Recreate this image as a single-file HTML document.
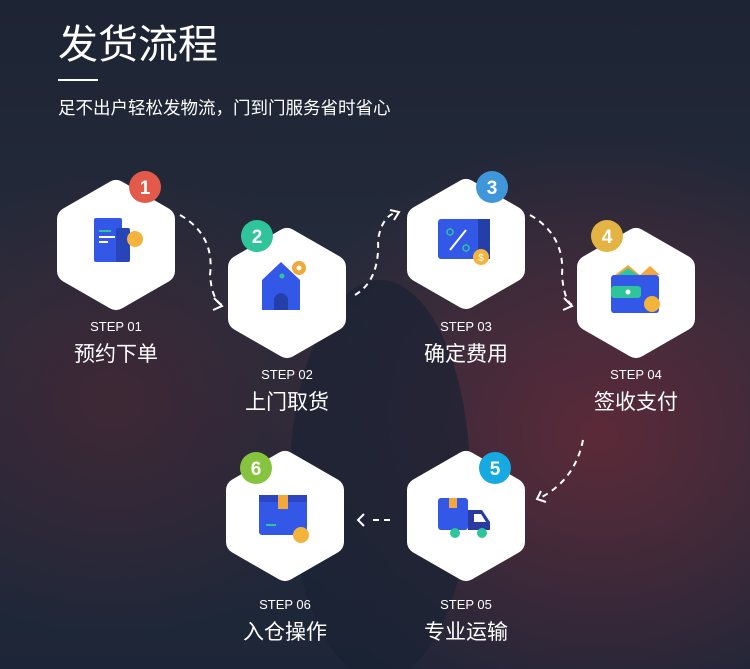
<!DOCTYPE html>
<html><head><meta charset="utf-8"><style>
body{margin:0;width:750px;height:669px;overflow:hidden;background:#1e2535;}
svg{display:block}
text{font-family:"Liberation Sans","Noto Sans CJK SC",sans-serif;fill:#fff}
</style></head><body>
<svg width="750" height="669" viewBox="0 0 750 669">
<defs>
<linearGradient id="bg" x1="0" y1="0" x2="0" y2="1">
<stop offset="0" stop-color="#1d2434"/><stop offset="0.5" stop-color="#262c3c"/><stop offset="1" stop-color="#1d2638"/>
</linearGradient>
<radialGradient id="red" cx="0.8" cy="0.65" r="0.45">
<stop offset="0" stop-color="#6a2a38" stop-opacity="0.8"/><stop offset="1" stop-color="#6a2a38" stop-opacity="0"/>
</radialGradient>
<radialGradient id="red2" cx="0.15" cy="0.6" r="0.35">
<stop offset="0" stop-color="#4a2633" stop-opacity="0.7"/><stop offset="1" stop-color="#4a2633" stop-opacity="0"/>
</radialGradient>
<g id="hex"><polygon points="0,-53 47,-26 47,26 0,53 -47,26 -47,-26" fill="#fff" stroke="#fff" stroke-width="24" stroke-linejoin="round"/></g>
</defs>
<rect width="750" height="669" fill="url(#bg)"/>
<rect width="750" height="669" fill="url(#red)"/>
<rect width="750" height="669" fill="url(#red2)"/>
<ellipse cx="380" cy="480" rx="90" ry="200" fill="#1a2233" opacity="0.7"/>

<text x="58" y="58" font-size="40">发货流程</text>
<rect x="58" y="79" width="40" height="2" fill="#fff"/>
<text x="58" y="114" font-size="17.5">足不出户轻松发物流，门到门服务省时省心</text>

<g fill="none" stroke="#fff" stroke-width="2" stroke-dasharray="6,5">
<path d="M180 215 Q215 235 210 275 Q212 300 222 305"/>
<path d="M355 295 Q380 280 378 240 Q382 215 398 212"/>
<path d="M530 215 Q565 235 562 275 Q564 300 572 305"/>
<path d="M583 440 Q575 480 540 498"/>
<path d="M390 520 L368 520"/>
</g>
<g fill="none" stroke="#fff" stroke-width="2">
<path d="M214 298 L222 306 L213 310"/>
<path d="M390 210 L399 212 L394 220"/>
<path d="M564 298 L572 306 L563 310"/>
<path d="M541 491 L537 499 L546 502"/>
<path d="M364 514 L358 520 L364 526"/>
</g>

<use href="#hex" x="116" y="245"/>
<use href="#hex" x="287" y="293"/>
<use href="#hex" x="466" y="244"/>
<use href="#hex" x="636" y="293"/>
<use href="#hex" x="466" y="516"/>
<use href="#hex" x="285" y="516"/>

<rect x="94" y="218" width="28" height="44" rx="2" fill="#3358e8"/>
<rect x="116" y="228" width="14" height="34" rx="2" fill="#2745b8"/>
<rect x="99" y="230" width="12" height="2" fill="#2ec59a"/>
<rect x="99" y="236" width="16" height="2" fill="#fff"/>
<rect x="99" y="241" width="9" height="2" fill="#fff"/>
<circle cx="135" cy="239" r="8" fill="#f4b33b"/>
<path d="M262 296 L262 280 L281 262 L300 280 L300 310 L262 310 Z" fill="#3358e8"/>
<path d="M274 310 L274 298 Q281 288 288 298 L288 310Z" fill="#2440a8"/>
<circle cx="282" cy="276" r="2.5" fill="#2ec59a"/>
<circle cx="299" cy="268" r="7" fill="#f4a83b"/><circle cx="299" cy="268" r="2.5" fill="#fff"/>
<rect x="438" y="219" width="52" height="40" rx="3" fill="#3358e8"/>
<rect x="478" y="219" width="12" height="40" fill="#2440a8"/>
<line x1="450" y1="250" x2="466" y2="230" stroke="#fff" stroke-width="2"/>
<circle cx="450" cy="232" r="3" fill="none" stroke="#2ec59a" stroke-width="1.5"/>
<circle cx="466" cy="248" r="3" fill="none" stroke="#2ec59a" stroke-width="1.5"/>
<circle cx="481" cy="257" r="8" fill="#f4b33b"/>
<text x="481" y="261" font-size="10" text-anchor="middle">$</text>
<path d="M615 275 L628 265 L640 275 L650 266 L660 275Z" fill="#f4a83b"/>
<path d="M618 275 L628 268 L638 275Z" fill="#2ec59a"/>
<rect x="611" y="275" width="48" height="38" rx="3" fill="#3358e8"/>
<rect x="611" y="286" width="30" height="12" rx="3" fill="#2ec59a"/>
<circle cx="628" cy="292" r="2.5" fill="#fff"/>
<circle cx="652" cy="304" r="8" fill="#f4b33b"/>
<rect x="438" y="498" width="30" height="32" rx="3" fill="#3358e8"/>
<rect x="449" y="498" width="8" height="10" fill="#f4a83b"/>
<path d="M468 510 L482 510 L490 522 L490 530 L468 530Z" fill="#2a3aa0"/>
<path d="M474 514 L481 514 L486 522 L474 522Z" fill="#fff"/>
<circle cx="455" cy="533" r="5" fill="#2ec59a"/><circle cx="482" cy="533" r="5" fill="#2ec59a"/>
<rect x="259" y="495" width="48" height="40" rx="3" fill="#3358e8"/>
<rect x="259" y="495" width="48" height="7" fill="#2a46c0"/>
<rect x="278" y="495" width="10" height="14" fill="#f4a83b"/>
<rect x="266" y="524" width="10" height="2" fill="#2ec59a"/>
<circle cx="301" cy="535" r="8" fill="#f4b33b"/>

<circle cx="145" cy="187" r="16" fill="#e35a4a"/><text x="145" y="194" font-size="19" font-weight="bold" text-anchor="middle">1</text>
<circle cx="257" cy="236" r="16" fill="#2fc49a"/><text x="257" y="243" font-size="19" font-weight="bold" text-anchor="middle">2</text>
<circle cx="492" cy="187" r="16" fill="#3f96d8"/><text x="492" y="194" font-size="19" font-weight="bold" text-anchor="middle">3</text>
<circle cx="607" cy="236" r="16" fill="#e3b443"/><text x="607" y="243" font-size="19" font-weight="bold" text-anchor="middle">4</text>
<circle cx="495" cy="468" r="16" fill="#17a9e2"/><text x="495" y="475" font-size="19" font-weight="bold" text-anchor="middle">5</text>
<circle cx="256" cy="468" r="16" fill="#86c43f"/><text x="256" y="475" font-size="19" font-weight="bold" text-anchor="middle">6</text>

<g text-anchor="middle">
<text x="116" y="331" font-size="13">STEP 01</text><text x="116" y="361" font-size="21">预约下单</text>
<text x="287" y="379" font-size="13">STEP 02</text><text x="287" y="409" font-size="21">上门取货</text>
<text x="466" y="331" font-size="13">STEP 03</text><text x="466" y="361" font-size="21">确定费用</text>
<text x="636" y="379" font-size="13">STEP 04</text><text x="636" y="409" font-size="21">签收支付</text>
<text x="466" y="609" font-size="13">STEP 05</text><text x="466" y="639" font-size="21">专业运输</text>
<text x="285" y="609" font-size="13">STEP 06</text><text x="285" y="639" font-size="21">入仓操作</text>
</g>
</svg>
</body></html>
